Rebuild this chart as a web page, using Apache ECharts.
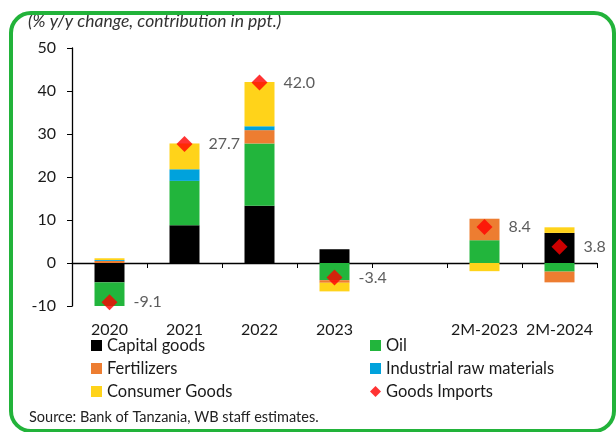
<!DOCTYPE html>
<html>
<head>
<meta charset="utf-8">
<script src="https://cdn.jsdelivr.net/npm/echarts@6/dist/echarts.min.js"></script>
<style>
  html, body { margin: 0; padding: 0; background: #fff; }
  #chart { width: 616px; height: 432px; }
</style>
</head>
<body>
<div id="chart"></div>
<script>
// categories (blank slot between annual and 2-month data)
var categories = ['2020', '2021', '2022', '2023', '', '2M-2023', '2M-2024'];

// contributions, ppt
var capitalGoods = [-4.5, 8.8, 13.3, 3.2, '-', 0, 7.0];
var oil = [-5.7, 10.3, 14.5, -4.0, '-', 5.3, -2.0];
var fertilizers = [0.5, 0, 3.1, -0.6, '-', 5.0, -2.5];
var industrialRaw = [0.2, 2.7, 0.9, 0, '-', 0, 0];
var consumerGoods = [0.4, 6.0, 10.3, -2.0, '-', -1.9, 1.3];
var goodsImports = [-9.1, 27.7, 42.0, -3.4, '-', 8.4, 3.8];

var yTicks = { min: -10, max: 50, interval: 10 };

var FONT = 'Lato';
var TXT = '#1a1a1a';

var chart = echarts.init(document.getElementById('chart'));

function barSeries(name, data, color) {
    return {
        name: name,
        type: 'bar',
        stack: 'total',
        xAxisIndex: 0,
        barWidth: 30,
        data: data,
        itemStyle: { color: color },
        emphasis: { disabled: true }
    };
}

var option = {
    animation: false,
    backgroundColor: '#fff',
    textStyle: { fontFamily: FONT },
    graphic: [{
        type: 'rect',
        shape: { x: 11, y: 13, width: 603, height: 418, r: 20 },
        style: { fill: 'none', stroke: '#22b33a', lineWidth: 4 },
        z: 100
    }, {
        type: 'text',
        left: 28, top: 12,
        style: {
            text: '(% y/y change, contribution in ppt.)',
            font: 'italic 17.5px ' + FONT,
            fill: '#333'
        }
    }, {
        type: 'text',
        left: 29, top: 410,
        style: {
            text: 'Source: Bank of Tanzania, WB staff estimates.',
            font: '14.5px ' + FONT,
            fill: '#222'
        }
    }],
    grid: { left: 72, right: 19, top: 48, bottom: 126 },
    legend: [{
        orient: 'vertical',
        left: 91, top: 337,
        padding: 0,
        itemWidth: 11, itemHeight: 11, itemGap: 6,
        textStyle: { fontFamily: FONT, fontSize: 16.5, lineHeight: 16, color: TXT },
        data: [
            { name: 'Capital goods', icon: 'rect' },
            { name: 'Fertilizers', icon: 'rect' },
            { name: 'Consumer Goods', icon: 'rect' }
        ]
    }, {
        orient: 'vertical',
        left: 370, top: 337,
        padding: 0,
        itemWidth: 11, itemHeight: 11, itemGap: 6,
        textStyle: { fontFamily: FONT, fontSize: 16.5, lineHeight: 16, color: TXT },
        data: [
            { name: 'Oil', icon: 'rect' },
            { name: 'Industrial raw materials', icon: 'rect' },
            { name: 'Goods Imports', icon: 'diamond' }
        ]
    }],
    xAxis: [{
        type: 'category',
        data: categories,
        axisLine: { onZero: true, lineStyle: { color: '#000', width: 1.3 } },
        axisTick: { show: true, length: 5, lineStyle: { color: '#000' } },
        axisLabel: { show: false },
        splitLine: { show: false }
    }, {
        type: 'category',
        data: categories,
        position: 'bottom',
        axisLine: { show: false, onZero: false },
        axisTick: { show: false },
        axisLabel: { fontFamily: FONT, fontSize: 16, color: TXT, margin: 16, interval: 0 },
        splitLine: { show: false }
    }],
    yAxis: {
        type: 'value',
        min: yTicks.min, max: yTicks.max, interval: yTicks.interval,
        axisLine: { show: true, lineStyle: { color: '#000', width: 1.3 } },
        axisTick: { show: true, length: 5, lineStyle: { color: '#000' } },
        axisLabel: { fontFamily: FONT, fontSize: 16, color: TXT, margin: 16 },
        splitLine: { show: false }
    },
    series: [
        barSeries('Capital goods', capitalGoods, '#000000'),
        barSeries('Oil', oil, '#22b53c'),
        barSeries('Fertilizers', fertilizers, '#ed7d31'),
        barSeries('Industrial raw materials', industrialRaw, '#00a2dc'),
        barSeries('Consumer Goods', consumerGoods, '#ffd31a'),
        {
            name: 'Goods Imports',
            type: 'scatter',
            xAxisIndex: 0,
            symbol: 'diamond',
            symbolSize: 16,
            data: goodsImports,
            itemStyle: { color: '#ff0000' },
            z: 10,
            label: {
                show: true,
                position: 'right',
                distance: 16,
                fontFamily: FONT,
                fontSize: 16,
                color: '#333',
                formatter: function (p) { return Number(p.value).toFixed(1); }
            }
        }
    ]
};

chart.setOption(option);
</script>
</body>
</html>
